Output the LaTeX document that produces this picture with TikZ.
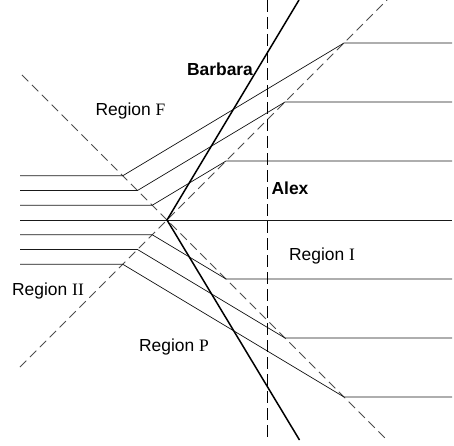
\documentclass[tikz,border=0pt]{standalone}
\usepackage{fontspec}
\setmainfont{Liberation Sans}
\newfontfamily\tmsfont{Liberation Serif}
\begin{document}
\begin{tikzpicture}[x=1bp,y=-1bp,
  world/.style={line width=0.75bp,black!90},
  cone/.style={line width=0.8bp,black!70,dash pattern=on 9bp off 5bp},
  alexline/.style={line width=1bp,black,dash pattern=on 12bp off 5bp},
  barbline/.style={line width=1.5bp,black},
  lab/.style={inner sep=0pt,font=\fontsize{17.5}{20}\selectfont},
  blab/.style={inner sep=0pt,font=\fontsize{17.5}{20}\selectfont\bfseries}]
\useasboundingbox (0,0) rectangle (454,446);
\coordinate (C) at (167,220);
% light-cone (dashed) lines
\coordinate (DA1) at (22,75);
\coordinate (DA2) at (387,440);
\coordinate (DB1) at (20,367);
\coordinate (DB2) at (389,-2);
\draw[cone] (DA1) -- (DA2);
\draw[cone] (DB1) -- (DB2);
% world lines
\coordinate (M1) at (20,220);
\coordinate (M2) at (452,220);
\draw[world] (M1) -- (M2);
\foreach \k in {1,2,3}{
  \pgfmathsetmacro{\a}{14.75*\k}
  % upper
  \coordinate (US\k) at (20,220-\a);
  \coordinate (UB\k) at (167-\a,220-\a);
  \coordinate (UE\k) at (167+4*\a,220-4*\a);
  \coordinate (UR\k) at (452,220-4*\a);
  \draw[world] (US\k) -- (UB\k) -- (UE\k) -- (UR\k);
  % lower
  \coordinate (LS\k) at (20,220+\a);
  \coordinate (LB\k) at (167-\a,220+\a);
  \coordinate (LE\k) at (167+4*\a,220+4*\a);
  \coordinate (LR\k) at (452,220+4*\a);
  \draw[world] (LS\k) -- (LB\k) -- (LE\k) -- (LR\k);
}
% Alex
\coordinate (A1) at (267,0);
\coordinate (A2) at (267,440);
\draw[alexline] (A1) -- (A2);
% Barbara
\coordinate (B1) at (299,0);
\coordinate (B2) at (299.5,440);
\draw[barbline] (B1) -- (C) -- (B2);
% labels
\node[blab] (barbara) at (220,69) {Barbara};
\node[blab] (alex) at (290,188) {Alex};
\node[lab] (rF) at (130.5,111) {Region {\tmsfont F}};
\node[lab] (rI) at (322,256) {Region {\tmsfont I}};
\node[lab] (rII) at (48,291) {Region {\tmsfont II}};
\node[lab] (rP) at (174,347) {Region {\tmsfont P}};
\end{tikzpicture}
\end{document}
